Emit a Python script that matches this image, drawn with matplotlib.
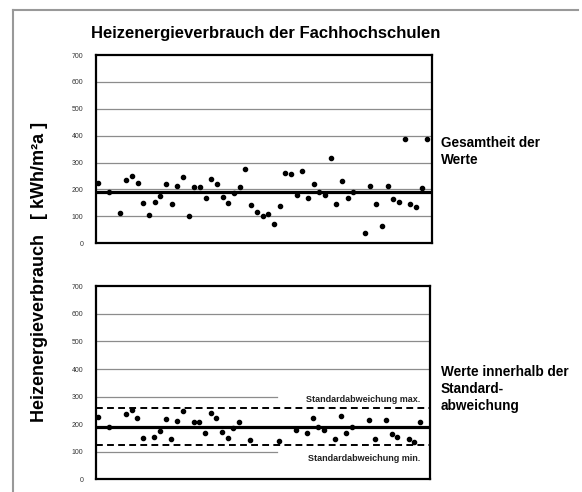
import numpy as np
import matplotlib.pyplot as plt
from matplotlib.lines import Line2D

plt.rcParams['font.family'] = ['Liberation Sans', 'DejaVu Sans']

# Heizenergieverbrauch je Fachhochschule [kWh/m²a], NaN = kein Wert
verbrauch = [224, np.nan, 190, np.nan, 113, 236, 251, 223, 150, 103,
             154, 175, 219, 146, 211, 246, 101, 209, 209, 168,
             240, 221, 172, 148, 185, 208, 275, 143, 116, 100,
             108, 72, 139, 261, 259, 180, 269, 169, 221, 190,
             180, 316, 146, 230, 168, 190, np.nan, 39, 214, 147,
             62, 214, 164, 153, 389, 147, 135, 206, 386]
mittelwert = 189
std_max = 257
std_min = 124
y_ticks = [0, 100, 200, 300, 400, 500, 600, 700]

verbrauch = np.array(verbrauch, dtype=float)
idx = np.arange(len(verbrauch))
innerhalb = (verbrauch >= std_min) & (verbrauch <= std_max)
verbrauch_std = np.where(innerhalb, verbrauch, np.nan)

fig = plt.figure(figsize=(5.82, 4.92), dpi=100)

# grauer Rahmen links und oben
fig.add_artist(Line2D([13 / 582, 13 / 582], [0, 1 - 10 / 492], color='#999999', lw=1.5))
fig.add_artist(Line2D([13 / 582, 578 / 582], [1 - 10 / 492, 1 - 10 / 492], color='#999999', lw=1.5))

ax1 = fig.add_axes([0.165, 0.506, 0.577, 0.382])
ax2 = fig.add_axes([0.165, 0.026, 0.574, 0.392])


def style(ax):
    ax.set_ylim(0, 700)
    ax.set_xlim(-0.3, 58.8)
    ax.set_xticks([])
    ax.set_yticks(y_ticks)
    ax.tick_params(axis='y', length=0, pad=9, labelsize=5, labelcolor='#333333')
    for sp in ax.spines.values():
        sp.set_linewidth(1.6)
        sp.set_color('black')


# oben: alle Werte
style(ax1)
for v in y_ticks[1:-1]:
    ax1.axhline(v, color='#8c8c8c', lw=0.9, zorder=1)
ax1.axhline(mittelwert, color='black', lw=2.3, zorder=2)
ax1.plot(idx, verbrauch, 'o', color='black', ms=3.0, zorder=3)

# unten: nur Werte innerhalb der Standardabweichung
style(ax2)
for v in [400, 500, 600]:
    ax2.axhline(v, color='#8c8c8c', lw=0.9, zorder=1)
for v in [100, 300]:
    ax2.plot([-0.3, 31.8], [v, v], color='#8c8c8c', lw=0.9, zorder=1)
ax2.axhline(mittelwert, color='black', lw=2.3, zorder=2)
ax2.axhline(std_max, color='black', lw=1.4, ls=(0, (3.5, 2.2)), zorder=2)
ax2.axhline(std_min, color='black', lw=1.4, ls=(0, (3.5, 2.2)), zorder=2)
ax2.plot(idx, verbrauch_std, 'o', color='black', ms=3.0, zorder=3)
ax2.text(57, 290, 'Standardabweichung max.', ha='right', va='center',
         fontsize=6.5, fontweight='bold', color='#222222')
ax2.text(57, 75, 'Standardabweichung min.', ha='right', va='center',
         fontsize=6.5, fontweight='bold', color='#222222')

fig.text(91 / 582, 1 - 33 / 492, 'Heizenergieverbrauch der Fachhochschulen',
         ha='left', va='center', fontsize=12, fontweight='bold')
fig.text(40 / 582, 1 - 272 / 492, 'Heizenergieverbrauch   [ kWh/m²a ]', rotation=90,
         ha='center', va='center', fontsize=13, fontweight='bold')
fig.text(441 / 582, 1 - 151.5 / 492, 'Gesamtheit der\nWerte', ha='left', va='center',
         fontsize=9.8, fontweight='bold', linespacing=1.25)
fig.text(441 / 582, 1 - 389 / 492, 'Werte innerhalb der\nStandard-\nabweichung',
         ha='left', va='center', fontsize=9.8, fontweight='bold', linespacing=1.25)

fig.savefig('out.png', dpi=100)
